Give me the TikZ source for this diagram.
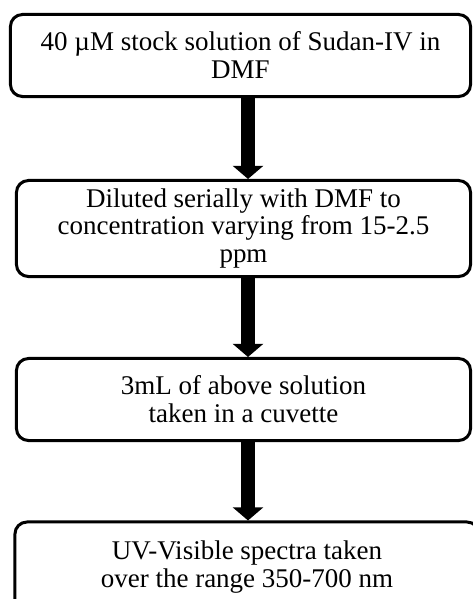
\documentclass[tikz,border=0pt]{standalone}
\usepackage{fontspec}
\setmainfont{Liberation Serif}
\usetikzlibrary{arrows.meta, positioning}

\begin{document}
\begin{tikzpicture}[x=0.025cm, y=-0.025cm,
    stepbox/.style={draw, line width=0.075cm, rounded corners=0.3cm, align=center,
      inner sep=0pt, font=\fontsize{19.2}{19.9}\selectfont},
    flow/.style={line width=0.35cm, -{Triangle[width=0.75cm, length=0.33cm]}}]
      \clip (0,0) rectangle (473,599);
      \node[stepbox, minimum width=11.5cm, minimum height=2.05cm] (stock) at (240.5,55.5)
        {40 µM stock solution of Sudan-IV in\\DMF};
      \node[stepbox, minimum width=11.35cm, minimum height=2.4cm] (dilute) at (243.5,228.5)
        {Diluted serially with DMF to\\concentration varying from 15-2.5\\ppm};
      \node[stepbox, minimum width=11.35cm, minimum height=2.05cm] (cuvette) at (243.5,399.5)
        {3mL of above solution\\taken in a cuvette};
      \node[stepbox, minimum width=11.6cm, minimum height=2.25cm] (spectra) at (247,567)
        {UV-Visible spectra taken\\over the range 350-700 nm};
      \coordinate (axis) at (248,0);
      \draw[flow] (stock.south -| axis) -- (dilute.north -| axis);
      \draw[flow] (dilute.south -| axis) -- (cuvette.north -| axis);
      \draw[flow] (cuvette.south -| axis) -- (spectra.north -| axis);
    \end{tikzpicture}
\end{document}
